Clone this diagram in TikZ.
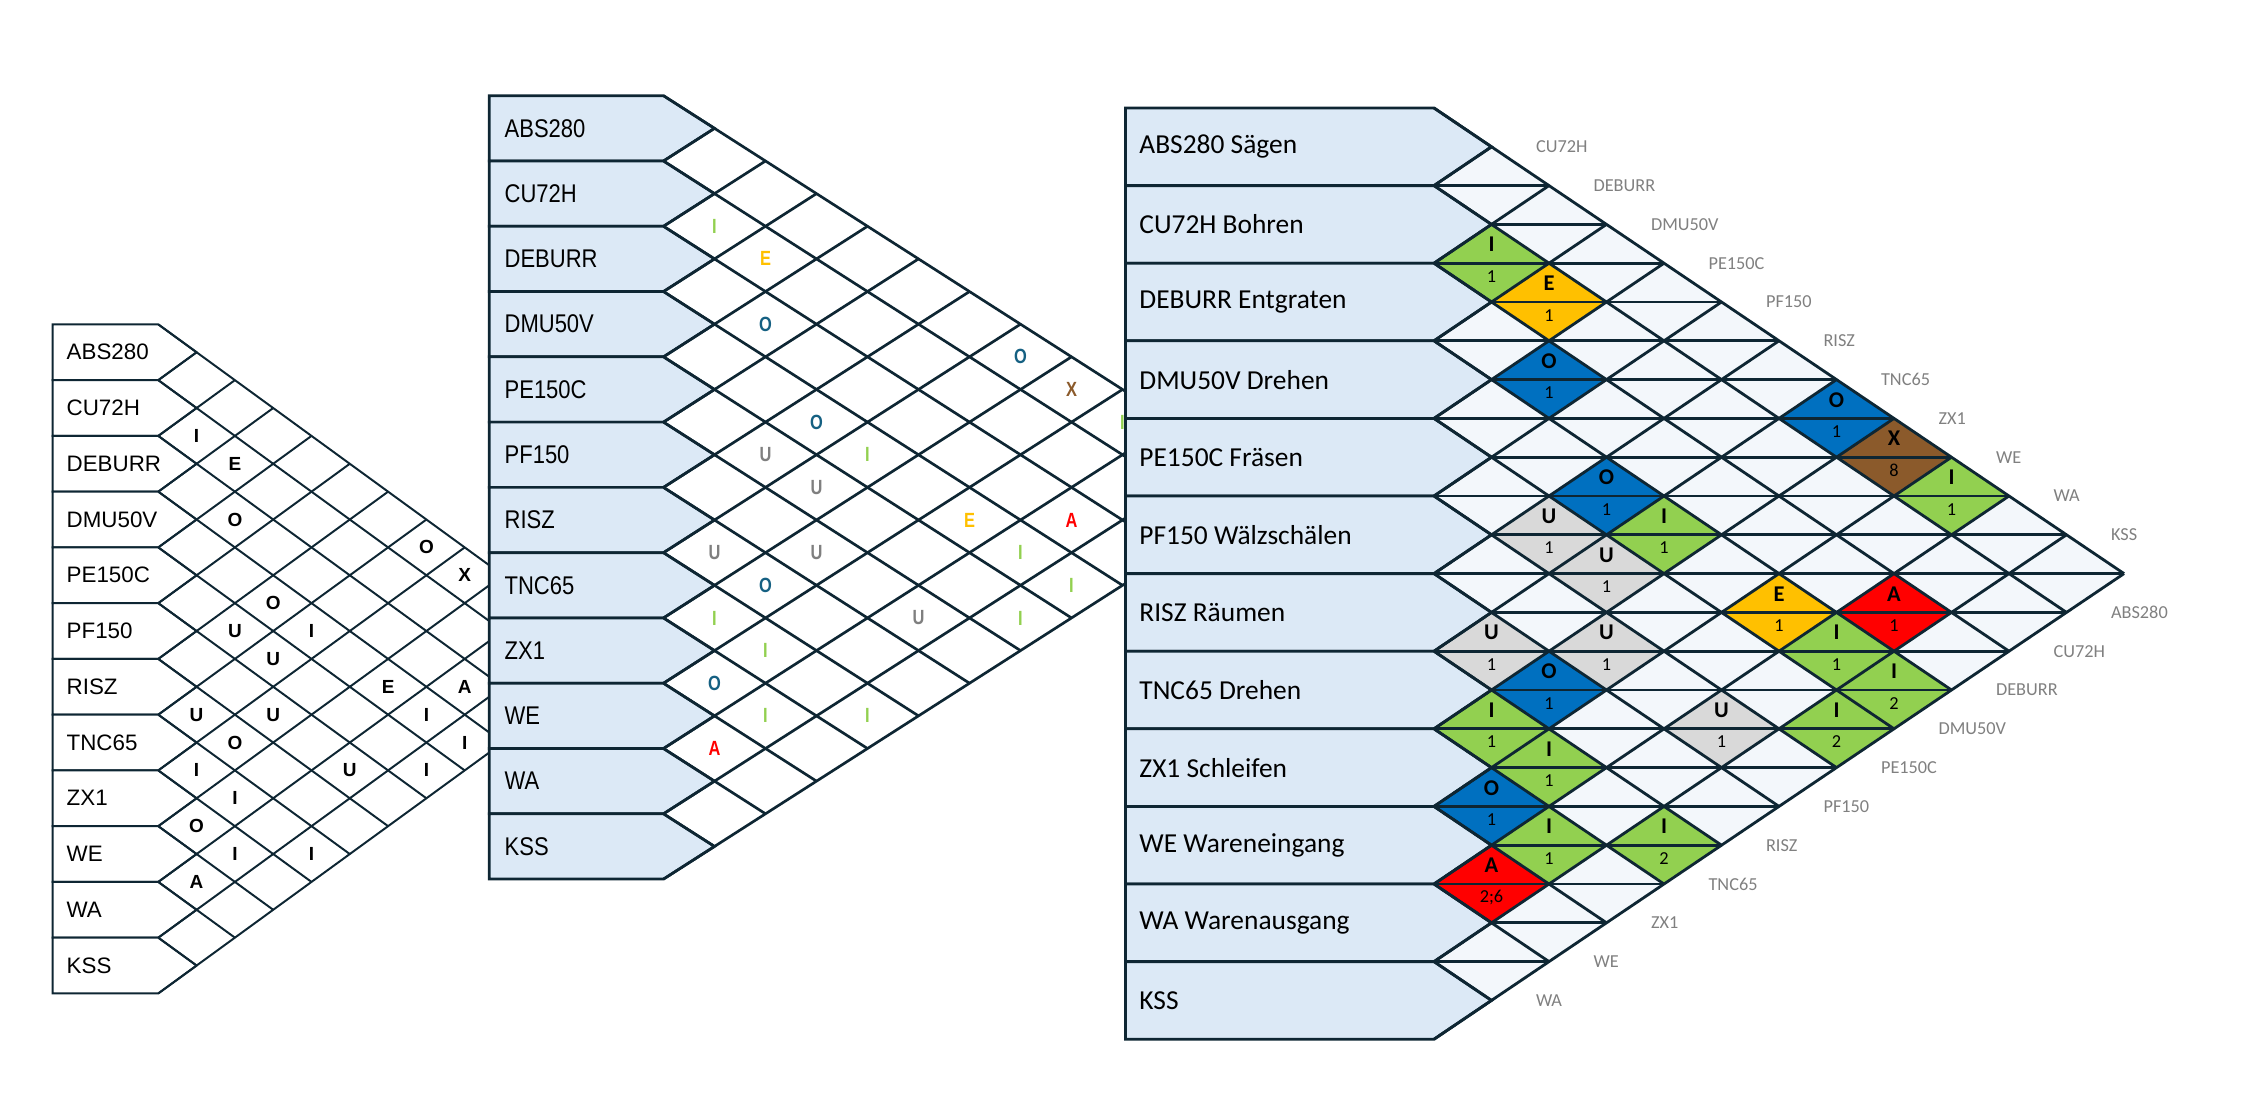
\documentclass[tikz,border=0pt]{standalone}
\usepackage{fontspec}
\setmainfont{Liberation Sans}
\newfontfamily\midfont[FakeStretch=0.86]{Liberation Sans}
\newfontfamily\midletterfont[FakeStretch=0.8]{Liberation Sans}
\newfontfamily\rightfont{Carlito}

\definecolor{relline}{HTML}{0E2633}
\definecolor{relbox}{HTML}{DCE9F6}
\definecolor{relbg}{HTML}{F3F7FB}
\definecolor{relA}{HTML}{FF0000}
\definecolor{relE}{HTML}{FFC000}
\definecolor{relI}{HTML}{92D050}
\definecolor{relO}{HTML}{0070C0}
\definecolor{relU}{HTML}{D9D9D9}
\definecolor{relX}{HTML}{8B5A2B}
\definecolor{midO}{HTML}{156082}
\definecolor{midU}{HTML}{7F7F7F}
\colorlet{midI}{relI}
\colorlet{midE}{relE}
\colorlet{midX}{relX}
\colorlet{midA}{relA}
\definecolor{colgray}{HTML}{808080}

% lines of a relationship chart: tip base x, top y, row height, half diamond width
\newcommand{\relgrid}[4]{%
  \foreach \row in {0,...,12} {%
    \draw (#1,{#2+\row*#3}) -- ({#1+(12-\row)*#4},{#2+(12+\row)*#3/2});
    \draw (#1,{#2+\row*#3}) -- ({#1+\row*#4},{#2+\row*#3/2});
  }}

\begin{document}
\begin{tikzpicture}[x=0.025cm, y=-0.025cm, line join=miter]
\tikzstyle{leftlabel}    = [anchor=west, inner sep=0pt, font=\fontsize{15.9}{17}\selectfont]
\tikzstyle{leftletter}   = [inner sep=0pt, font=\fontsize{13.5}{15}\selectfont\bfseries]
\tikzstyle{midlabel}     = [anchor=west, inner sep=0pt, font=\midfont\fontsize{18.2}{20}\selectfont]
\tikzstyle{midletter}    = [inner sep=0pt, font=\midletterfont\fontsize{14.6}{16}\selectfont\bfseries]
\tikzstyle{rightlabel}   = [anchor=west, inner sep=0pt, font=\rightfont\fontsize{19.5}{21}\selectfont]
\tikzstyle{rightletter}  = [inner sep=0pt, font=\rightfont\fontsize{16}{18}\selectfont\bfseries]
\tikzstyle{rightnumber}  = [inner sep=0pt, font=\rightfont\fontsize{13}{15}\selectfont]
\tikzstyle{collabel}     = [anchor=west, inner sep=0pt, text=colgray, font=\rightfont\fontsize{13}{15}\selectfont]
\useasboundingbox (0,0) rectangle (2241,1119);
%
\def\lx{52.7}   \def\lxb{158.3}  \def\ldx{38.3} \def\ly{324.4} \def\lh{55.75}
\def\mx{489.3}  \def\mxb{663.5}  \def\mdx{51}   \def\my{95.7}  \def\mh{65.28}
\def\rx{1125.5} \def\rxb{1434}   \def\rdx{57.5} \def\ry{108}   \def\rh{77.6}
%
% left chart
\begin{scope}[draw=relline, line width=1.4pt]
\foreach \lbl [count=\row from 0] in {ABS280,CU72H,DEBURR,DMU50V,PE150C,PF150,RISZ,TNC65,ZX1,WE,WA,KSS} {
  \draw[fill=white] (\lx,{\ly+\row*\lh}) -- (\lxb,{\ly+\row*\lh}) -- ({\lxb+\ldx},{\ly+(\row+0.5)*\lh})
    -- (\lxb,{\ly+(\row+1)*\lh}) -- (\lx,{\ly+(\row+1)*\lh}) -- cycle;
  \node[leftlabel] (l-\row) at ({\lx+13},{\ly+(\row+0.5)*\lh}) {\lbl};
}
\relgrid{\lxb}{\ly}{\lh}{\ldx}
\foreach \i/\j/\ltr [count=\c] in {1/2/I,1/3/E,2/4/O,0/7/O,0/8/X,3/6/O,4/6/U,3/7/I,4/7/U,3/9/E,2/10/A,6/7/U,5/8/U,
    3/10/I,6/8/O,3/11/I,7/8/I,5/10/U,4/11/I,7/9/I,8/9/O,8/10/I,7/11/I,9/10/A}
  \node[leftletter] (lc-\c) at ({\lxb+(\j-\i)*\ldx},{\ly+(\i+\j+1)*\lh/2}) {\ltr};
\end{scope}
%
% middle chart
\begin{scope}[draw=relline, line width=1.9pt]
\foreach \lbl [count=\row from 0] in {ABS280,CU72H,DEBURR,DMU50V,PE150C,PF150,RISZ,TNC65,ZX1,WE,WA,KSS} {
  \draw[fill=relbox] (\mx,{\my+\row*\mh}) -- (\mxb,{\my+\row*\mh}) -- ({\mxb+\mdx},{\my+(\row+0.5)*\mh})
    -- (\mxb,{\my+(\row+1)*\mh}) -- (\mx,{\my+(\row+1)*\mh}) -- cycle;
  \node[midlabel] (m-\row) at ({\mx+14},{\my+(\row+0.5)*\mh}) {\lbl};
}
\relgrid{\mxb}{\my}{\mh}{\mdx}
\foreach \i/\j/\ltr [count=\c] in {1/2/I,1/3/E,2/4/O,0/7/O,0/8/X,0/9/I,3/6/O,4/6/U,3/7/I,4/7/U,3/9/E,2/10/A,6/7/U,5/8/U,
    3/10/I,6/8/O,3/11/I,7/8/I,5/10/U,4/11/I,7/9/I,8/9/O,8/10/I,7/11/I,9/10/A}
  \node[midletter, text=mid\ltr] (mc-\c) at ({\mxb+(\j-\i)*\mdx},{\my+(\i+\j+1)*\mh/2}) {\ltr};
\end{scope}
%
% right chart
\begin{scope}[draw=relline, line width=2pt]
\fill[relbg] (\rxb,\ry) -- ({\rxb+12*\rdx},{\ry+6*\rh}) -- (\rxb,{\ry+12*\rh}) -- cycle;
\foreach \i/\j/\ltr [count=\c] in {1/2/I,1/3/E,2/4/O,0/7/O,0/8/X,0/9/I,3/6/O,4/6/U,3/7/I,4/7/U,3/9/E,2/10/A,6/7/U,5/8/U,
    3/10/I,6/8/O,3/11/I,7/8/I,5/10/U,4/11/I,7/9/I,8/9/O,8/10/I,7/11/I,9/10/A}
  \fill[rel\ltr] ({\rxb+(\j-\i-1)*\rdx},{\ry+(\i+\j+1)*\rh/2}) -- ({\rxb+(\j-\i)*\rdx},{\ry+(\i+\j)*\rh/2})
    -- ({\rxb+(\j-\i+1)*\rdx},{\ry+(\i+\j+1)*\rh/2}) -- ({\rxb+(\j-\i)*\rdx},{\ry+(\i+\j+2)*\rh/2}) -- cycle;
\foreach \lbl [count=\row from 0] in {ABS280 Sägen,CU72H Bohren,DEBURR Entgraten,DMU50V Drehen,PE150C Fräsen,
    PF150 Wälzschälen,RISZ Räumen,TNC65 Drehen,ZX1 Schleifen,WE Wareneingang,WA Warenausgang,KSS} {
  \draw[fill=relbox] (\rx,{\ry+\row*\rh}) -- (\rxb,{\ry+\row*\rh}) -- ({\rxb+\rdx},{\ry+(\row+0.5)*\rh})
    -- (\rxb,{\ry+(\row+1)*\rh}) -- (\rx,{\ry+(\row+1)*\rh}) -- cycle;
  \node[rightlabel] (r-\row) at ({\rx+12.5},{\ry+(\row+0.5)*\rh}) {\lbl};
}
\relgrid{\rxb}{\ry}{\rh}{\rdx}
\foreach \m in {2,...,22} {
  \pgfmathsetmacro\xs{\rxb+mod(\m,2)*\rdx}
  \pgfmathsetmacro\xe{\rxb+min(\m,24-\m)*\rdx}
  \draw (\xs,{\ry+\m*\rh/2}) -- (\xe,{\ry+\m*\rh/2});
}
\foreach \i/\j/\ltr/\nr [count=\c] in {1/2/I/1,1/3/E/1,2/4/O/1,0/7/O/1,0/8/X/8,0/9/I/1,3/6/O/1,4/6/U/1,3/7/I/1,
    4/7/U/1,3/9/E/1,2/10/A/1,6/7/U/1,5/8/U/1,3/10/I/1,6/8/O/1,3/11/I/2,7/8/I/1,5/10/U/1,4/11/I/2,7/9/I/1,
    8/9/O/1,8/10/I/1,7/11/I/2,9/10/A/{2;6}} {
  \node[rightletter] (rc-\c) at ({\rxb+(\j-\i)*\rdx},{\ry+(\i+\j+0.52)*\rh/2}) {\ltr};
  \node[rightnumber] (rn-\c) at ({\rxb+(\j-\i)*\rdx},{\ry+(\i+\j+1.34)*\rh/2}) {\nr};
}
\foreach \lbl [count=\j] in {CU72H,DEBURR,DMU50V,PE150C,PF150,RISZ,TNC65,ZX1,WE,WA,KSS}
  \node[collabel] (rt-\j) at ({\rxb+(\j+0.75)*\rdx},{\ry+\j*\rh/2}) {\lbl};
\foreach \lbl [count=\i from 0] in {ABS280,CU72H,DEBURR,DMU50V,PE150C,PF150,RISZ,TNC65,ZX1,WE,WA}
  \node[collabel] (rb-\i) at ({\rxb+(11.75-\i)*\rdx},{\ry+(13+\i)*\rh/2}) {\lbl};
\end{scope}
\end{tikzpicture}
\end{document}
